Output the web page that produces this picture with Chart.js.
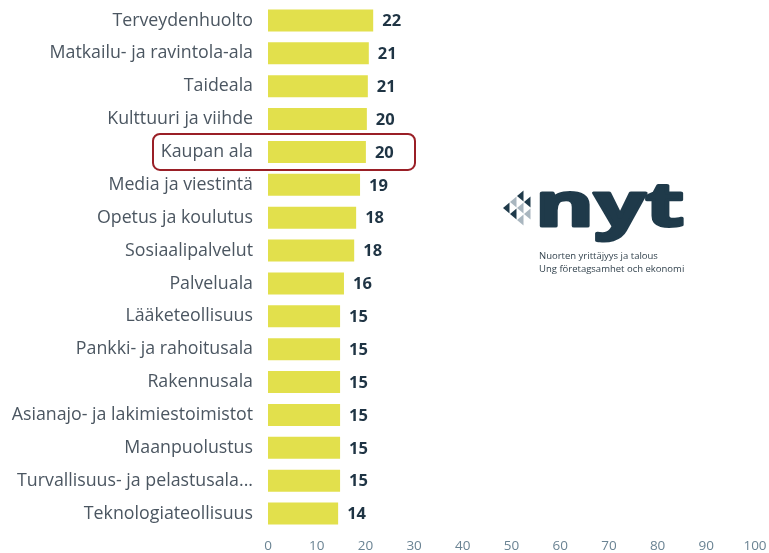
<!DOCTYPE html>
<html>
<head>
<meta charset="utf-8">
<script src="https://cdn.jsdelivr.net/npm/chart.js@4"></script>
<style>
  html, body { margin: 0; padding: 0; background: #fff; }
  #wrap { width: 769px; height: 553px; position: relative; }
</style>
</head>
<body>
<div id="wrap"><canvas id="chart"></canvas></div>
<script>
'use strict';

const categories = [
  'Terveydenhuolto', 'Matkailu- ja ravintola-ala', 'Taideala', 'Kulttuuri ja viihde',
  'Kaupan ala', 'Media ja viestintä', 'Opetus ja koulutus', 'Sosiaalipalvelut',
  'Palveluala', 'Lääketeollisuus', 'Pankki- ja rahoitusala', 'Rakennusala',
  'Asianajo- ja lakimiestoimistot', 'Maanpuolustus', 'Turvallisuus- ja pelastusala...',
  'Teknologiateollisuus',
];
const values = [21.6, 20.7, 20.5, 20.3, 20.1, 18.9, 18.1, 17.7, 15.6, 14.8, 14.8, 14.8, 14.8, 14.8, 14.8, 14.4];
const highlighted = 'Kaupan ala';

const COLORS = {
  bar: '#e2e04c',
  label: '#4b5661',
  value: '#1f3444',
  tick: '#6a8393',
  box: '#9a1f26',
  logo: '#1f3a4a',
};

// ---------- arvojen tekstit palkkien perään ----------
const valueLabels = {
  id: 'valueLabels',
  afterDatasetsDraw(chart) {
    const { ctx } = chart;
    const meta = chart.getDatasetMeta(0);
    ctx.save();
    ctx.font = 'bold 16.5px "Open Sans", sans-serif';
    ctx.fillStyle = COLORS.value;
    ctx.textBaseline = 'middle';
    meta.data.forEach((bar, i) => {
      ctx.fillText(String(Math.round(values[i])), bar.x + 9, bar.y + 1);
    });
    ctx.restore();
  },
};

// ---------- korostuslaatikko ----------
const highlightBox = {
  id: 'highlightBox',
  afterDraw(chart) {
    const idx = categories.indexOf(highlighted);
    if (idx < 0) return;
    const y = chart.scales.y.getPixelForValue(idx);
    const { ctx } = chart;
    ctx.save();
    ctx.strokeStyle = COLORS.box;
    ctx.lineWidth = 2;
    ctx.beginPath();
    ctx.roundRect(153, y - 18, 262, 36, 7);
    ctx.stroke();
    ctx.restore();
  },
};

// ---------- logo ----------
const logo = {
  id: 'logo',
  afterDraw(chart) {
    const { ctx } = chart;
    ctx.save();
    // kolmiokuvio (nuoli vasemmalle)
    const s = 6.5;
    const tris = [
      [503, 208, 0],
      [510, 202, 1], [510, 214, 0],
      [517, 196, 0], [517, 208, 1], [517, 220, 1],
      [524, 202, 0], [524, 214, 1],
    ];
    for (const [x, y, light] of tris) {
      ctx.fillStyle = light ? '#a9b6bf' : COLORS.logo;
      ctx.beginPath();
      ctx.moveTo(x, y);
      ctx.lineTo(x + s, y - s * 0.85);
      ctx.lineTo(x + s, y + s * 0.85);
      ctx.closePath();
      ctx.fill();
    }
    ctx.fillStyle = COLORS.logo;
    ctx.strokeStyle = COLORS.logo;
    ctx.lineWidth = 3;
    ctx.lineJoin = 'round';
    ctx.translate(535, 226);
    ctx.scale(1.5, 1);
    ctx.font = 'bold 60px "Open Sans", sans-serif';
    ctx.textBaseline = 'alphabetic';
    ctx.fillText('nyt', 0, 0);
    ctx.strokeText('nyt', 0, 0);
    ctx.setTransform(1, 0, 0, 1, 0, 0);
    ctx.font = '9.5px "Open Sans", sans-serif';
    ctx.fillStyle = '#33434e';
    ctx.fillText('Nuorten yrittäjyys ja talous', 539, 259);
    ctx.fillText('Ung företagsamhet och ekonomi', 539, 272);
    ctx.restore();
  },
};

new Chart(document.getElementById('chart'), {
  type: 'bar',
  data: {
    labels: categories,
    datasets: [{
      data: values,
      backgroundColor: COLORS.bar,
      barPercentage: 0.67,
      categoryPercentage: 1,
    }],
  },
  options: {
    indexAxis: 'y',
    responsive: true,
    maintainAspectRatio: false,
    animation: false,
    layout: { padding: { top: 4, right: 14, bottom: 0, left: 0 } },
    plugins: { legend: { display: false }, tooltip: { enabled: false } },
    scales: {
      x: {
        min: 0, max: 100,
        grid: { display: false, drawTicks: false },
        border: { display: false },
        ticks: {
          stepSize: 10, padding: 8, maxRotation: 0,
          color: COLORS.tick, font: { family: '"Open Sans", sans-serif', size: 13.5 },
        },
        afterFit: (s) => { s.height = 23; s.paddingLeft = 0; s.paddingRight = 0; },
      },
      y: {
        grid: { display: false, drawTicks: false },
        border: { display: false },
        ticks: {
          padding: 15, autoSkip: false,
          color: COLORS.label, font: { family: '"Open Sans", sans-serif', size: 17.8 },
        },
        afterFit: (s) => { s.width = 268; s.paddingTop = 0; s.paddingBottom = 0; },
      },
    },
  },
  plugins: [valueLabels, highlightBox, logo],
});
</script>
</body>
</html>
